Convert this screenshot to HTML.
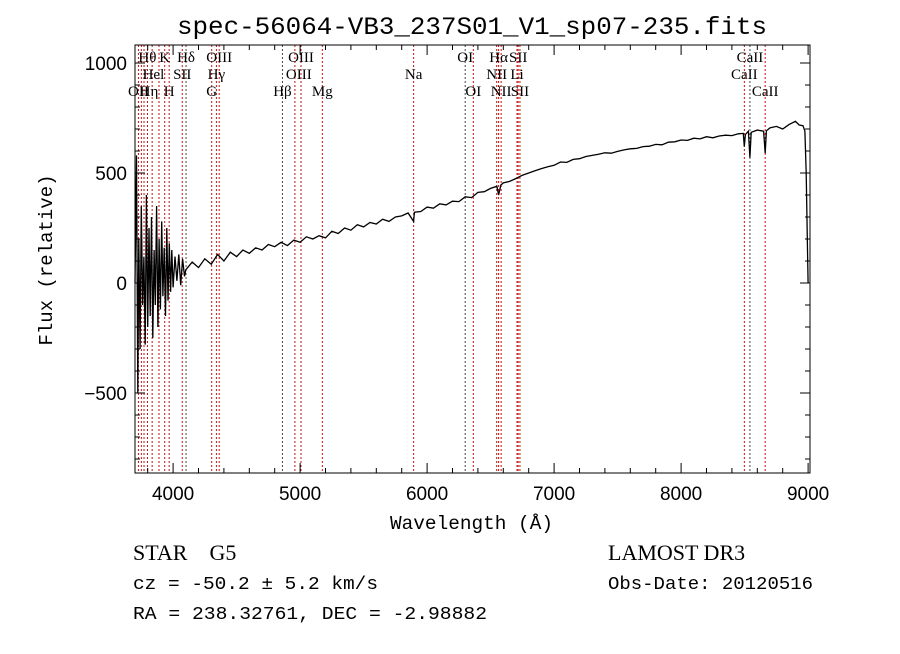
<!DOCTYPE html>
<html><head><meta charset="utf-8"><style>
body{margin:0;background:#fff;}
svg text{font-family:"Liberation Serif",serif;fill:#000;}
</style></head><body>
<svg width="900" height="649" viewBox="0 0 900 649">
<text x="177" y="34" textLength="590" lengthAdjust="spacingAndGlyphs" font-size="25" style="font-family:'Liberation Mono',monospace">spec-56064-VB3_237S01_V1_sp07-235.fits</text>
<g id="lines"></g>
<g id="spec"></g>
<rect x="135" y="45" width="675" height="428" fill="none" stroke="#000" stroke-width="1"/>
<g id="axes"></g>
<text x="390" y="529" textLength="163" lengthAdjust="spacingAndGlyphs" font-size="19" style="font-family:'Liberation Mono',monospace">Wavelength (Å)</text>
<text transform="translate(52,260) rotate(-90)" text-anchor="middle" font-size="19" style="font-family:'Liberation Mono',monospace">Flux (relative)</text>
<text x="133" y="560" font-size="22">STAR&#160;&#160;&#160;&#160;G5</text>
<text x="608" y="560" font-size="22">LAMOST DR3</text>
<text x="133" y="589" textLength="245" lengthAdjust="spacingAndGlyphs" font-size="18" style="font-family:'Liberation Mono',monospace">cz = -50.2 ± 5.2 km/s</text>
<text x="608" y="589" textLength="205" lengthAdjust="spacingAndGlyphs" font-size="18" style="font-family:'Liberation Mono',monospace">Obs-Date: 20120516</text>
<text x="133" y="619" textLength="354" lengthAdjust="spacingAndGlyphs" font-size="18" style="font-family:'Liberation Mono',monospace">RA = 238.32761, DEC =  -2.98882</text>
</svg>
<script>
const wave=[3700,3712,3722,3730,3740,3750,3760,3770,3780,3790,3800,3810,3820,3830,3840,3850,3860,3870,3880,3890,3900,3910,3920,3930,3940,3950,3960,3970,3980,3990,4000,4015,4030,4045,4060,4075,4090,
4100,4150,4200,4250,4300,4350,4400,4450,4500,4550,4600,4650,4700,4750,4800,4850,4900,4950,5000,5050,5100,5150,5200,5250,5300,5350,5400,5450,5500,5550,5600,5650,5700,5750,5800,5850,5894,5900,5950,6000,6050,6100,6150,6200,6250,6300,6350,6400,6450,6500,6550,6563,6580,6600,6650,6700,6750,6800,6850,6900,6950,7000,7050,7100,7150,7200,7250,7300,7350,7400,7450,7500,7550,7600,7650,7700,7750,7800,7850,7900,7950,8000,8050,8100,8150,8200,8250,8300,8350,8400,8450,8490,8498,8506,8530,8542,8552,8600,8650,8662,8672,8700,8750,8800,8850,8900,8930,8960,8975,8985,8995,9000];
const flux=[0,580,-500,200,-300,350,-100,120,-280,400,-200,250,-150,300,-250,150,-100,350,-200,200,-120,280,-60,160,-150,250,-80,180,-40,150,-20,120,10,130,-10,110,30,
60,95,70,110,85,130,100,140,120,150,135,160,150,175,165,185,170,195,185,210,200,215,205,235,225,250,240,265,255,275,268,290,280,300,305,318,280,322,325,345,340,360,355,372,370,392,388,412,415,430,440,400,445,455,462,475,490,500,510,520,528,535,550,548,562,565,575,580,585,592,590,598,605,610,612,620,622,630,628,640,642,650,648,658,655,665,660,668,672,670,678,680,620,675,690,570,685,695,690,590,692,705,712,700,720,735,718,715,690,500,150,0];
const lineW=[3727,3750,3771,3798,3835,3889,3934,3969,4072,4102,4304,4341,4363,4861,4959,5007,5175,5894,6300,6364,6548,6563,6583,6708,6717,6731,8498,8542,8662];
const labels=[["OII",3727,3],["H\u03b8",3798,1],["Hel",3845,2],["H\u03b7",3810,3],["K",3934,1],["SII",4072,2],["H",3969,3],["H\u03b4",4102,1],["OIII",4363,1],["H\u03b3",4341,2],["G",4304,3],["OIII",5007,1],["OIII",4990,2],["H\u03b2",4861,3],["Mg",5175,3],["Na",5894,2],["OI",6300,1],["OI",6364,3],["H\u03b1",6563,1],["SII",6717,1],["NII",6548,2],["Li",6708,2],["NII",6583,3],["SII",6731,3],["CaII",8542,1],["CaII",8498,2],["CaII",8662,3]];
const xTicks=[4000,5000,6000,7000,8000,9000];
const yTicks=[-500,0,500,1000];
const X=w=>135+(w-3700)*0.127;
const Y=f=>283-f*0.22;
const NS="http://www.w3.org/2000/svg";
function mk(t,a,p){const e=document.createElementNS(NS,t);for(const k in a)e.setAttribute(k,a[k]);p.appendChild(e);return e;}
const gl=document.getElementById('lines');
lineW.forEach(w=>{const l=mk('line',{x1:X(w),x2:X(w),y1:45,y2:473,stroke:(w==4102||w==4861||w==6300||w==8542)?'#444':'#c01010','stroke-width':1,'stroke-dasharray':'2,2'},gl);

});
labels.forEach(([t,w,r])=>{const e=mk('text',{x:X(w),y:[0,62,79,96][r],'text-anchor':'middle','font-size':15},gl);e.textContent=t;

});
let d='';wave.forEach((w,i)=>{d+=(i?'L':'M')+X(w).toFixed(1)+','+Math.min(473,Math.max(45,Y(flux[i]))).toFixed(1);});
const p=mk('path',{d:d,fill:'none',stroke:'#000','stroke-width':1.3},document.getElementById('spec'));


const ga=document.getElementById('axes');
for(let w=3800;w<=9000;w+=200){const big=w%1000==0;mk('line',{x1:X(w),x2:X(w),y1:473,y2:473-(big?10:5),stroke:'#000'},ga);mk('line',{x1:X(w),x2:X(w),y1:45,y2:45+(big?10:5),stroke:'#000'},ga);}
for(let f=-800;f<=1000;f+=100){const big=f%500==0;mk('line',{x1:135,x2:135+(big?10:5),y1:Y(f),y2:Y(f),stroke:'#000'},ga);mk('line',{x1:810,x2:810-(big?10:5),y1:Y(f),y2:Y(f),stroke:'#000'},ga);}
xTicks.forEach(v=>{const t=mk('text',{x:X(v),y:500,'text-anchor':'middle','font-size':19,style:"font-family:'Liberation Sans',sans-serif"},ga);t.textContent=v;

});
yTicks.forEach(v=>{const t=mk('text',{x:127,y:Y(v)+7,'text-anchor':'end','font-size':19,style:"font-family:'Liberation Sans',sans-serif"},ga);t.textContent=v<0?'\u2212'+(-v):v;

});
</script>
</body></html>
